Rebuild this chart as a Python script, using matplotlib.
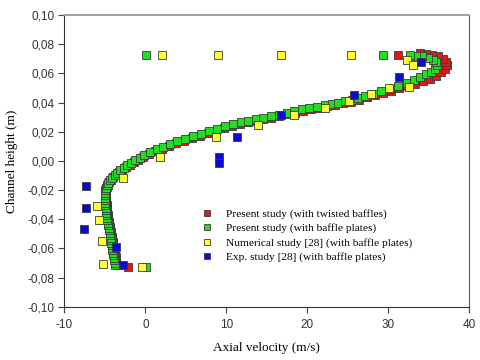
import matplotlib
matplotlib.use("Agg")
import matplotlib.pyplot as plt
from matplotlib.ticker import FixedLocator, FuncFormatter

# Present study (with twisted baffles)
red_x = [-2.14, -3.49, -3.56, -3.62, -3.68, -3.74, -3.80, -3.86, -3.93, -3.99, -4.05, -4.11, -4.17,
         -4.23, -4.30, -4.36, -4.42, -4.48, -4.54, -4.60, -4.67, -4.67, -4.73, -4.73, -4.79, -4.79,
         -4.85, -4.85, -4.85, -4.85, -4.85, -4.85, -4.79, -4.67, -4.48, -4.23, -3.99, -3.68, -3.31,
         -2.88, -2.44, -1.95, -1.46, -0.90, -0.28, 0.40, 1.20, 2.00, 2.86, 3.79, 4.78, 5.77, 6.75,
         7.74, 8.73, 9.72, 10.70, 11.69, 12.68, 13.67, 14.53, 15.52, 16.51, 17.49, 18.48, 19.47,
         20.46, 21.44, 22.43, 23.42, 24.41, 25.40, 26.38, 27.37, 28.36, 29.35, 30.33, 31.32, 32.31,
         33.30, 34.28, 35.15, 35.89, 36.51, 37.00, 37.25, 37.12, 36.75, 36.14, 35.40, 34.65, 33.91,
         31.20]
red_y = [-0.0726, -0.0711, -0.0694, -0.0677, -0.0660, -0.0643, -0.0625, -0.0608, -0.0591, -0.0574,
         -0.0557, -0.0540, -0.0523, -0.0506, -0.0488, -0.0471, -0.0454, -0.0437, -0.0420, -0.0403,
         -0.0386, -0.0369, -0.0351, -0.0334, -0.0317, -0.0300, -0.0283, -0.0266, -0.0249, -0.0232,
         -0.0214, -0.0197, -0.0180, -0.0163, -0.0146, -0.0129, -0.0112, -0.0095, -0.0077, -0.0060,
         -0.0043, -0.0026, -0.0009, 0.0008, 0.0025, 0.0046, 0.0066, 0.0084, 0.0104, 0.0121, 0.0138,
         0.0155, 0.0173, 0.0190, 0.0207, 0.0224, 0.0241, 0.0255, 0.0265, 0.0275, 0.0286, 0.0297,
         0.0308, 0.0320, 0.0332, 0.0343, 0.0354, 0.0364, 0.0375, 0.0385, 0.0395, 0.0407, 0.0421,
         0.0436, 0.0451, 0.0467, 0.0482, 0.0498, 0.0514, 0.0530, 0.0546, 0.0563, 0.0584, 0.0608,
         0.0632, 0.0656, 0.0680, 0.0700, 0.0717, 0.0727, 0.0734, 0.0738, 0.0729]

# Present study (with baffle plates)
green_x = [-3.74, -3.80, -3.86, -3.93, -3.99, -4.05, -4.11, -4.11, -4.17, -4.23, -4.23, -4.30, -4.36,
           -4.42, -4.48, -4.54, -4.60, -4.67, -4.73, -4.79, -4.85, -4.85, -4.91, -4.91, -4.98, -4.98,
           -4.98, -4.98, -4.98, -4.98, -4.98, -4.91, -4.79, -4.60, -4.36, -4.11, -3.80, -3.49, -3.12,
           -2.69, -2.26, -1.77, -1.27, -0.72, -0.16, 0.58, 1.41, 2.19, 3.05, 3.91, 4.90, 5.89, 6.88,
           7.86, 8.85, 9.84, 10.83, 11.81, 12.68, 13.67, 14.53, 15.52, 16.51, 17.49, 18.36, 19.35,
           20.21, 21.20, 22.19, 23.05, 23.79, 24.65, 25.52, 26.26, 27.12, 28.11, 29.10, 30.21, 31.20,
           32.27, 33.17, 33.91, 34.65, 35.27, 35.77, 36.01, 35.89, 35.52, 34.90, 34.16, 33.42, 32.68,
           29.35, 0.09, 0.09]
green_y = [-0.0714, -0.0697, -0.0680, -0.0663, -0.0646, -0.0629, -0.0612, -0.0595, -0.0577, -0.0560,
           -0.0543, -0.0526, -0.0509, -0.0492, -0.0475, -0.0458, -0.0440, -0.0423, -0.0406, -0.0389,
           -0.0372, -0.0355, -0.0338, -0.0321, -0.0303, -0.0286, -0.0269, -0.0252, -0.0235, -0.0218,
           -0.0201, -0.0184, -0.0166, -0.0149, -0.0132, -0.0115, -0.0098, -0.0081, -0.0064, -0.0047,
           -0.0029, -0.0012, 0.0005, 0.0022, 0.0039, 0.0060, 0.0080, 0.0097, 0.0118, 0.0135, 0.0152,
           0.0169, 0.0186, 0.0203, 0.0221, 0.0238, 0.0255, 0.0269, 0.0275, 0.0286, 0.0297, 0.0308,
           0.0318, 0.0330, 0.0343, 0.0353, 0.0363, 0.0373, 0.0382, 0.0388, 0.0397, 0.0409, 0.0421,
           0.0433, 0.0447, 0.0462, 0.0477, 0.0496, 0.0515, 0.0534, 0.0556, 0.0575, 0.0594, 0.0611,
           0.0632, 0.0656, 0.0676, 0.0693, 0.0707, 0.0717, 0.0722, 0.0725, 0.0729, 0.0729, -0.0730]

# Numerical study [28] (with baffle plates)
yellow_x = [2.02, 8.94, 16.79, 25.43, 32.35, 33.05, 32.59, 30.05, 27.83, 25.15, 22.19, 18.36, 13.91,
            8.69, 1.81, -2.81, -6.00, -5.75, -5.32, -5.26, -0.44]
yellow_y = [0.0729, 0.0729, 0.0729, 0.0724, 0.0695, 0.0659, 0.0507, 0.0501, 0.0460, 0.0409, 0.0366,
            0.0312, 0.0245, 0.0164, 0.0027, -0.0119, -0.0310, -0.0406, -0.0550, -0.0707, -0.0730]

# Exp. study [28] (with baffle plates)
blue_x = [-7.35, -7.32, -7.60, -3.59, -2.79, 9.14, 9.14, 11.32, 16.75, 25.77, 31.35, 34.04]
blue_y = [-0.0171, -0.0322, -0.0470, -0.0593, -0.0713, 0.0027, -0.0011, 0.0164, 0.0313, 0.0453,
          0.0577, 0.0676]

labels = ["Present study (with twisted baffles)",
          "Present study (with baffle plates)",
          "Numerical study [28] (with baffle plates)",
          "Exp. study [28] (with baffle plates)"]

x_ticks = [-10, 0, 10, 20, 30, 40]
y_ticks = [-0.10, -0.08, -0.06, -0.04, -0.02, 0.00, 0.02, 0.04, 0.06, 0.08, 0.10]

fig = plt.figure(figsize=(4.8, 3.6), dpi=100)
ax = fig.add_axes([0.134, 0.148, 0.844, 0.810])

mk = dict(marker='s', linestyle='none', markersize=5.3, markeredgecolor='#3a3a3a',
          markeredgewidth=0.6)
ax.plot(red_x, red_y, markerfacecolor='#e01818', label=labels[0], **mk)
ax.plot(green_x, green_y, markerfacecolor='#22dd22', label=labels[1], **mk)
ax.plot(yellow_x, yellow_y, markerfacecolor='#ffff33', label=labels[2], **mk)
ax.plot(blue_x, blue_y, markerfacecolor='#0a0ad0', label=labels[3], **mk)

ax.set_xlim(-10, 40)
ax.set_ylim(-0.10, 0.10)
ax.xaxis.set_major_locator(FixedLocator(x_ticks))
ax.yaxis.set_major_locator(FixedLocator(y_ticks))
ax.xaxis.set_major_formatter(FuncFormatter(lambda v, p: f"{v:.0f}"))
ax.yaxis.set_major_formatter(FuncFormatter(lambda v, p: f"{v:.2f}".replace('.', ',')))

ax.tick_params(direction='out', length=4, width=0.8, colors='#444444', labelsize=8.5,
               top=False, right=False)
ax.tick_params(axis='x', pad=5)
ax.tick_params(axis='y', pad=3)
for lab in ax.get_xticklabels() + ax.get_yticklabels():
    lab.set_family('Liberation Sans')
    lab.set_color('#333333')

ax.spines['top'].set_color('#9a9a9a')
ax.spines['top'].set_linewidth(1.3)
ax.spines['right'].set_color('#555555')
ax.spines['left'].set_color('#333333')
ax.spines['bottom'].set_color('#333333')

ax.set_xlabel("Axial velocity (m/s)", family='Liberation Serif', fontsize=9.5, labelpad=8)
ax.set_ylabel("Channel height (m)", family='Liberation Serif', fontsize=9.5, labelpad=7)

ax.legend(loc='upper left', bbox_to_anchor=(0.4094, 0.4356), bbox_transform=fig.transFigure,
          frameon=False, borderpad=0, handlelength=0.8, handletextpad=1.3, labelspacing=0.36,
          prop={'family': 'Liberation Serif', 'size': 8.2}, markerscale=0.95)

fig.savefig("out.png", dpi=100)
